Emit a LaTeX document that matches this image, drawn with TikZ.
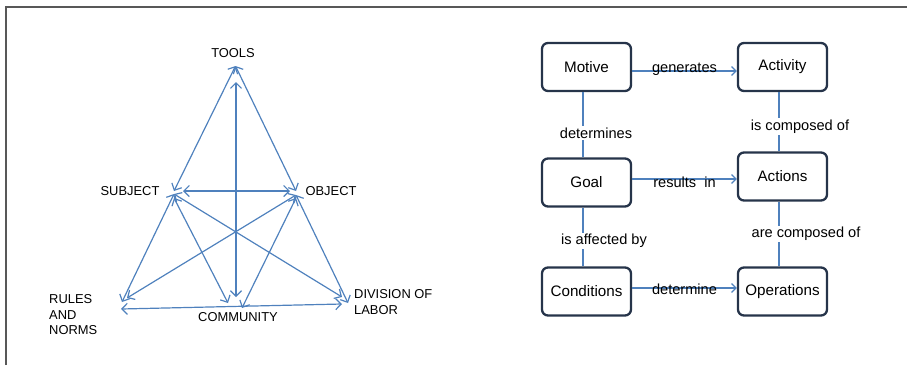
\documentclass[tikz,border=0pt]{standalone}
\usepackage{fontspec}
\setmainfont{Liberation Sans}
\usepackage{tikz}
\usetikzlibrary{arrows.meta}
\definecolor{linkblue}{RGB}{79,129,189}
\definecolor{boxnavy}{RGB}{38,52,74}
\definecolor{framegray}{RGB}{88,88,88}

\begin{document}
\begin{tikzpicture}[x=1pt,y=-1pt,
    link/.style={draw=linkblue,line width=1.2pt,{Straight Barb[length=5.5pt,width=11pt]}-{Straight Barb[length=5.5pt,width=11pt]}},
    rel/.style={draw=linkblue,line width=1.2pt,-{Straight Barb[length=4.5pt,width=9pt]}},
    plain/.style={draw=linkblue,line width=1.2pt},
    vtx/.style={font=\fontsize{12.9}{15.5}\selectfont,inner sep=0pt},
    box/.style={draw=boxnavy,line width=2.3pt,rounded corners=6pt,minimum width=89pt,minimum height=48pt,font=\fontsize{15.2}{18}\selectfont},
    lbl/.style={font=\fontsize{14.6}{17}\selectfont,inner sep=1.5pt}]
    \useasboundingbox (0,0) rectangle (907,365);
    \draw[framegray,line width=2pt] (5.5,365) -- (5.5,6.5) -- (907,6.5);
    \coordinate (tools) at (235.5,66);
    \coordinate (toolsin) at (236,82);
    \coordinate (subj) at (174,191);
    \coordinate (obj) at (296,191);
    \coordinate (rules) at (122,302);
    \coordinate (rulesa) at (127,298);
    \coordinate (rulesb) at (121,309);
    \coordinate (divl) at (342,297);
    \coordinate (divlb) at (348,303);
    \coordinate (divlc) at (342,304);
    \coordinate (comm) at (236,297);
    \coordinate (comma) at (228,303);
    \coordinate (commb) at (242,308);
    \node[vtx] (toolstxt) at (233,53) {TOOLS};
    \node[vtx] (subjtxt) at (130,191) {SUBJECT};
    \node[vtx] (objtxt) at (331,191) {OBJECT};
    \node[vtx,align=left,anchor=west] (rulestxt) at (49,315) {RULES\\AND\\NORMS};
    \node[vtx,align=left,anchor=west] (divltxt) at (354,302) {DIVISION OF\\LABOR};
    \node[vtx] (commtxt) at (238,317) {COMMUNITY};
    \draw[link] (tools) -- (subj);
    \draw[link] (tools) -- (obj);
    \draw[link] (toolsin) -- (comm);
    \draw[link] ([xshift=9pt]subj) -- ([xshift=-6pt]obj);
    \draw[link] ([yshift=-3pt]subj) -- (rules);
    \draw[link] ([yshift=-4pt]obj) -- (divlb);
    \draw[link] ([yshift=-3pt]subj) -- (divl);
    \draw[link] ([yshift=-4pt]obj) -- (rulesa);
    \draw[link] ([yshift=-7pt]subj) -- (comma);
    \draw[link] ([yshift=-7pt]obj) -- (commb);
    \draw[link] (rulesb) -- (divlc);
    \node[box] (motive) at (586.5,67) {Motive};
    \node[box] (activity) at (782.5,67) {Activity};
    \node[box] (goal) at (586.5,182.5) {Goal};
    \node[box] (actions) at (782.5,176.5) {Actions};
    \node[box] (conditions) at (586.5,291.5) {Conditions};
    \node[box] (operations) at (782.5,291.5) {Operations};
    \draw[rel] ([yshift=-4pt]motive.east) -- ([yshift=-4pt]activity.west) node[lbl,midway,yshift=2pt] {generates};
    \draw[rel] ([yshift=3.5pt]goal.east) -- ([yshift=-2.5pt]actions.west) node[lbl,midway,yshift=-3pt] {results\ \ in};
    \draw[rel] ([yshift=3.5pt]conditions.east) -- ([yshift=3.5pt]operations.west) node[lbl,midway,yshift=-1pt] {determine};
    \draw[plain] ([xshift=-3.5pt]motive.south) -- ([xshift=-3.5pt]goal.north) node[lbl,fill=white,midway,xshift=13pt,yshift=-8.5pt] {determines};
    \draw[plain] ([xshift=-3.5pt]goal.south) -- ([xshift=-3.5pt]conditions.north) node[lbl,fill=white,midway,xshift=21pt,yshift=-4pt] {is affected by};
    \draw[plain] ([xshift=-3.5pt]activity.south) -- ([xshift=-3.5pt]actions.north) node[lbl,fill=white,midway,xshift=21pt,yshift=-5pt] {is composed of};
    \draw[plain] ([xshift=-3.5pt]actions.south) -- ([xshift=-3.5pt]operations.north) node[lbl,fill=white,midway,xshift=27pt] {are composed of};
\end{tikzpicture}
\end{document}
